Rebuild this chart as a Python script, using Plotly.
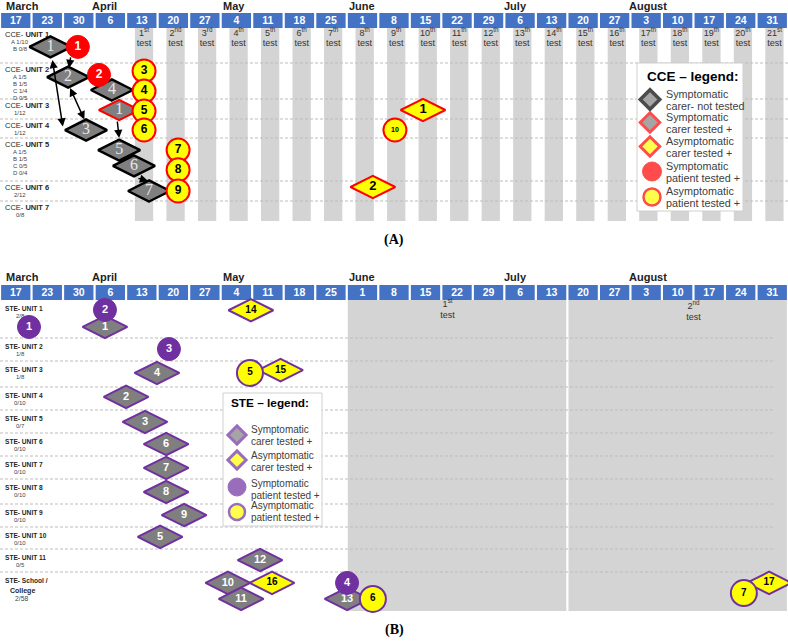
import plotly.graph_objects as go

W, H = 788, 641
NCOL = 25
PXC = W / NCOL
SANS = "Liberation Sans, Arial, sans-serif"
SERIF = "Liberation Serif, Times New Roman, serif"

# ------------------------------------------------------------------ data
WEEKS = ["17", "23", "30", "6", "13", "20", "27", "4", "11", "18", "25", "1", "8",
         "15", "22", "29", "6", "13", "20", "27", "3", "10", "17", "24", "31"]
MONTHS = ["March", "April", "May", "June", "July", "August"]
MONTH_AT = [0.2, 2.83, 6.93, 10.98, 15.84, 20.05]          # week index of month label
CCE_TEST_WEEKS = list(range(4, 25))                         # weekly tests from 13 April
STE_TESTS = ["1", "2"]
STE_TEST_SPAN = [(11, 17), (18, 24)]                        # week index span of each test

CCE_UNITS = ["UNIT 1", "UNIT 2", "UNIT 3", "UNIT 4", "UNIT 5", "UNIT 6", "UNIT 7"]
CCE_SUB = [["A 1/10", "B 0/8"], ["A 1/5", "B 1/5", "C 1/4", "D 0/5"], ["1/12"], ["1/12"],
           ["A 1/5", "B 1/5", "C 0/5", "D 0/4"], ["2/12"], ["0/8"]]

# CCE: symptomatic carer - not tested
CCE_SCN_ID = ["1", "2", "3", "4", "5", "6", "7"]
CCE_SCN_WK = [1.1, 1.66, 2.23, 3.05, 3.28, 3.75, 4.23]
CCE_SCN_UNIT = [1, 2, 4, 2, 5, 5, 6]
CCE_SCN_POS = [0.54, 0.39, 0.58, 0.75, 0.28, 0.65, 0.5]
# CCE: symptomatic carer tested +
CCE_SCP_ID = ["1"]
CCE_SCP_WK = [3.28]
CCE_SCP_UNIT = [3]
CCE_SCP_POS = [0.55]
# CCE: asymptomatic carer tested +
CCE_ACP_ID = ["1", "2"]
CCE_ACP_WK = [12.92, 11.33]
CCE_ACP_UNIT = [3, 6]
CCE_ACP_POS = [0.55, 0.3]
# CCE: symptomatic patient tested +
CCE_SPP_ID = ["1", "2"]
CCE_SPP_WK = [1.97, 2.64]
CCE_SPP_UNIT = [1, 2]
CCE_SPP_POS = [0.54, 0.33]
# CCE: asymptomatic patient tested +
CCE_APP_ID = ["3", "4", "5", "6", "7", "8", "9", "10"]
CCE_APP_WK = [4.07, 4.07, 4.07, 4.07, 5.15, 5.15, 5.15, 12.03]
CCE_APP_UNIT = [2, 2, 3, 4, 5, 5, 6, 4]
CCE_APP_POS = [0.22, 0.78, 0.6, 0.58, 0.28, 0.74, 0.5, 0.58]
# CCE transmission links (from, to, double headed)
CCE_LINKS = [("c3", "c1", True), ("p1", "c2", False), ("c3", "c2", True),
             ("s1", "c5", False), ("c6", "c7", False)]

STE_UNITS = ["STE- UNIT 1", "STE- UNIT 2", "STE- UNIT 3", "STE- UNIT 4", "STE- UNIT 5",
             "STE- UNIT 6", "STE- UNIT 7", "STE- UNIT 8", "STE- UNIT 9", "STE- UNIT 10",
             "STE- UNIT 11", "STE- School /"]
STE_SUB = ["2/8", "1/8", "1/8", "0/10", "0/7", "0/10", "0/10", "0/10", "0/10", "0/10",
           "0/5", "2/58"]

# STE: symptomatic carer tested +
STE_SC_ID = ["1", "2", "3", "4", "5", "6", "7", "8", "9", "10", "11", "12", "13"]
STE_SC_WK = [2.83, 3.5, 4.1, 4.48, 4.58, 4.77, 4.77, 4.77, 5.34, 6.73, 7.15, 7.75, 10.51]
STE_SC_UNIT = [1, 4, 5, 3, 10, 6, 7, 8, 9, 12, 12, 11, 12]
STE_SC_POS = [0.71, 0.43, 0.52, 0.46, 0.45, 0.48, 0.52, 0.52, 0.48, 0.28, 0.69, 0.48, 0.69]
# STE: asymptomatic carer tested +
STE_AC_ID = ["14", "15", "16", "17"]
STE_AC_WK = [7.46, 8.4, 8.13, 23.9]
STE_AC_UNIT = [1, 3, 12, 12]
STE_AC_POS = [0.27, 0.35, 0.28, 0.28]
# STE: symptomatic patient tested +
STE_SP_ID = ["1", "2", "3", "4"]
STE_SP_WK = [0.42, 2.83, 4.86, 10.51]
STE_SP_UNIT = [1, 1, 2, 12]
STE_SP_POS = [0.71, 0.26, 0.48, 0.28]
# STE: asymptomatic patient tested +
STE_AP_ID = ["5", "6", "7"]
STE_AP_WK = [7.43, 11.33, 23.1]
STE_AP_UNIT = [3, 12, 12]
STE_AP_POS = [0.46, 0.69, 0.54]

# ------------------------------------------------------------------ layout constants
A_MONTH_Y, A_HEAD, A_ROWS, A_BAR_END = 6, (13, 28), [28, 63, 99, 119, 138, 181, 201, 222], 221
B_MONTH_Y, B_HEAD = 277, (285, 300)
B_ROWS = [300, 338, 361, 387, 410, 433, 456, 479, 504, 527, 549, 572, 611]
BLUE, GREY_BAR, GREY_MK = "#4472C4", "#D4D4D4", "#7F7F7F"
RED, YEL, PUR = "#FF0000", "#FFFF00", "#7030A0"


def px2x(px):
    return px / PXC - 0.5


def yrow(rows, unit, frac):
    return rows[unit - 1] + frac * (rows[unit] - rows[unit - 1])


def ordinal(n):
    suf = "th" if 11 <= n % 100 <= 13 else {1: "st", 2: "nd", 3: "rd"}.get(n % 10, "th")
    return f"{n}<sup>{suf}</sup>"


fig = go.Figure()
NOHOV = dict(hoverinfo="skip", showlegend=False)

# header strips
for top, bot in (A_HEAD, B_HEAD):
    fig.add_trace(go.Bar(x=list(range(NCOL)), y=[bot - top] * NCOL, base=[top] * NCOL, width=0.93,
                         marker=dict(color=BLUE, line=dict(width=0)), **NOHOV))

# CCE weekly test bars
n = len(CCE_TEST_WEEKS)
fig.add_trace(go.Bar(x=[w + 0.07 for w in CCE_TEST_WEEKS], y=[A_BAR_END - A_HEAD[1]] * n,
                     base=[A_HEAD[1]] * n, width=0.58,
                     marker=dict(color=GREY_BAR, line=dict(width=0)), **NOHOV))
# STE test periods
fig.add_trace(go.Bar(x=[(a + b) / 2 for a, b in STE_TEST_SPAN],
                     y=[B_ROWS[-1] - B_HEAD[1]] * len(STE_TEST_SPAN),
                     base=[B_HEAD[1]] * len(STE_TEST_SPAN),
                     width=[b - a + 1 - 0.07 for a, b in STE_TEST_SPAN],
                     marker=dict(color=GREY_BAR, line=dict(width=0)), **NOHOV))

# dashed row separators
for rows, xend in ((A_ROWS, 24.5), (B_ROWS, px2x(775))):
    xs, ys = [], []
    for r in rows[1:-1]:
        xs += [-0.5, xend, None]
        ys += [r, r, None]
    fig.add_trace(go.Scatter(x=xs, y=ys, mode="lines",
                             line=dict(color="#BDBDBD", width=1, dash="3px,2px"), **NOHOV))

# legend boxes
for (x0, y0, x1, y1) in ((637, 63, 743, 211), (223, 393, 322, 526)):
    fig.add_trace(go.Scatter(x=[px2x(x0), px2x(x1), px2x(x1), px2x(x0), px2x(x0)],
                             y=[y0, y0, y1, y1, y0], mode="lines", fill="toself",
                             fillcolor="white", line=dict(color="#D0D0D0", width=1), **NOHOV))

# header labels
for top, bot in (A_HEAD, B_HEAD):
    fig.add_trace(go.Scatter(x=list(range(NCOL)), y=[(top + bot) / 2 + 0.5] * NCOL, mode="text",
                             text=WEEKS, textfont=dict(color="white", size=10.5, family=SANS, weight="bold"),
                             **NOHOV))
# CCE test labels
fig.add_trace(go.Scatter(x=[w + 0.07 for w in CCE_TEST_WEEKS], y=[34] * n, mode="text",
                         text=[ordinal(i + 1) for i in range(n)],
                         textfont=dict(color="#333333", size=9, family=SANS), **NOHOV))
fig.add_trace(go.Scatter(x=[w + 0.07 for w in CCE_TEST_WEEKS], y=[44] * n, mode="text",
                         text=["test"] * n, textfont=dict(color="#333333", size=9, family=SANS), **NOHOV))
# STE test labels
STE_LABEL_X = [13.7, 21.5]
fig.add_trace(go.Scatter(x=STE_LABEL_X, y=[305, 307], mode="text",
                         text=[ordinal(int(t)) for t in STE_TESTS],
                         textfont=dict(color="#333333", size=9, family=SANS), **NOHOV))
fig.add_trace(go.Scatter(x=STE_LABEL_X, y=[316, 318], mode="text", text=["test"] * 2,
                         textfont=dict(color="#333333", size=9, family=SANS), **NOHOV))


def marks(wk, units, pos, rows, ids, symbol, size, fill, lc, lw, tc, ts, fam=SANS, bold=True):
    ys = [yrow(rows, u, f) for u, f in zip(units, pos)]
    fig.add_trace(go.Scatter(x=wk, y=ys, mode="markers+text", text=ids, textposition="middle center",
                             marker=dict(symbol=symbol, size=size, color=fill, line=dict(color=lc, width=lw)),
                             textfont=dict(color=tc, size=ts, family=fam, weight="bold" if bold else "normal"),
                             cliponaxis=False, **NOHOV))
    return dict(zip(ids, zip(wk, ys)))


# CCE marks
pc = marks(CCE_SCN_WK, CCE_SCN_UNIT, CCE_SCN_POS, A_ROWS, CCE_SCN_ID, "diamond-wide", 30,
           GREY_MK, "#000000", 2.5, "#E8E8E8", 16, SERIF, False)
ps = marks(CCE_SCP_WK, CCE_SCP_UNIT, CCE_SCP_POS, A_ROWS, CCE_SCP_ID, "diamond-wide", 29,
           GREY_MK, RED, 2, "#E8E8E8", 16, SERIF, False)
marks(CCE_ACP_WK, CCE_ACP_UNIT, CCE_ACP_POS, A_ROWS, CCE_ACP_ID, "diamond-wide", 32,
      YEL, RED, 2, "#000000", 13)
pp = marks(CCE_SPP_WK, CCE_SPP_UNIT, CCE_SPP_POS, A_ROWS, CCE_SPP_ID, "circle", 23,
           RED, RED, 1, "white", 12)
marks(CCE_APP_WK, CCE_APP_UNIT, CCE_APP_POS, A_ROWS, CCE_APP_ID, "circle", 23,
      YEL, RED, 2, "#000000", [12] * 7 + [7])

# STE marks
marks(STE_SC_WK, STE_SC_UNIT, STE_SC_POS, B_ROWS, STE_SC_ID, "diamond-wide", 32,
      GREY_MK, PUR, 2, "white", 11)
marks(STE_AC_WK, STE_AC_UNIT, STE_AC_POS, B_ROWS, STE_AC_ID, "diamond-wide", 32,
      YEL, PUR, 2, "#000000", 10)
marks(STE_SP_WK, STE_SP_UNIT, STE_SP_POS, B_ROWS, STE_SP_ID, "circle", 23,
      PUR, PUR, 1, "white", 11)
marks(STE_AP_WK, STE_AP_UNIT, STE_AP_POS, B_ROWS, STE_AP_ID, "circle", 26,
      YEL, PUR, 2, "#000000", 10)

# legend symbols
fig.add_trace(go.Scatter(
    x=[px2x(650), px2x(650), px2x(650), px2x(652), px2x(652)], y=[99.5, 122.5, 146.5, 171.5, 197],
    mode="markers",
    marker=dict(symbol=["diamond", "diamond", "diamond", "circle", "circle"], size=[15, 15, 15, 19, 17],
                color=[GREY_MK, GREY_MK, YEL, RED, YEL],
                line=dict(color=["#000000", RED, RED, RED, RED], width=[3.5, 3, 3, 1, 2.5])),
    cliponaxis=False, **NOHOV))
fig.add_trace(go.Scatter(
    x=[px2x(237)] * 4, y=[435, 460, 487, 512], mode="markers",
    marker=dict(symbol=["diamond", "diamond", "circle", "circle"], size=[14, 14, 18, 16],
                color=[GREY_MK, YEL, PUR, YEL],
                line=dict(color=PUR, width=[3, 3, 1, 2.5])),
    cliponaxis=False, **NOHOV))

ann = []


def txt(x, y, s, size, color="#262626", xanchor="center", fam=SANS):
    ann.append(dict(x=x, y=y, xref="x", yref="y", text=s, showarrow=False, xanchor=xanchor,
                    yanchor="middle", font=dict(size=size, color=color, family=fam)))


# months
for m, at in zip(MONTHS, MONTH_AT):
    txt(at, A_MONTH_Y, f"<b>{m}</b>", 11, "#222222")
    txt(at, B_MONTH_Y, f"<b>{m}</b>", 11, "#222222")

# CCE unit labels
for i, (u, subs) in enumerate(zip(CCE_UNITS, CCE_SUB)):
    top = A_ROWS[i]
    txt(px2x(3), top + 6.5, f"CCE- <b>{u}</b>", 7.5, xanchor="left")
    for j, s in enumerate(subs):
        txt(px2x(20), top + 13.5 + 7 * j, s, 6, "#444444")
# STE unit labels
for i, (u, s) in enumerate(zip(STE_UNITS, STE_SUB)):
    top = B_ROWS[i]
    txt(px2x(3), top + 8, f"<b>{u}</b>", 6.6, xanchor="left")
    if i == len(STE_UNITS) - 1:
        txt(px2x(22), top + 18.5, "<b>College</b>", 7)
        txt(px2x(21), top + 26, s, 6.8, "#444444")
    else:
        txt(px2x(20), top + 15.5, s, 6, "#444444")

# legend texts
txt(px2x(645), 76, "<b>CCE – legend:</b>", 13.5, "#000000", "left")
for y, (l1, l2) in zip([99.5, 122.5, 146.5, 171.5, 197],
                       [("Symptomatic", "carer- not tested"), ("Symptomatic", "carer tested +"),
                        ("Asymptomatic", "carer tested +"), ("Symptomatic", "patient tested +"),
                        ("Asymptomatic", "patient tested +")]):
    txt(px2x(664), y - 6, l1, 10.8, "#404040", "left")
    txt(px2x(664), y + 6, l2, 10.8, "#404040", "left")
txt(px2x(229), 403, "<b>STE – legend:</b>", 11.8, "#000000", "left")
for y, (l1, l2) in zip([435, 461.5, 489, 511.5],
                       [("Symptomatic", "carer tested +"), ("Asymptomatic", "carer tested +"),
                        ("Symptomatic", "patient tested +"), ("Asymptomatic", "patient tested +")]):
    txt(px2x(249), y - 6, l1, 10, "#404040", "left")
    txt(px2x(249), y + 6, l2, 10, "#404040", "left")

# panel tags
txt(px2x(394), 240, "<b>(A)</b>", 14, "#000000", fam=SERIF)
txt(px2x(394), 630, "<b>(B)</b>", 14, "#000000", fam=SERIF)

# CCE transmission arrows (endpoint offsets in px from marker centres)
refs = {("c" + k): v for k, v in pc.items()}
refs.update({("s" + k): v for k, v in ps.items()})
refs.update({("p" + k): v for k, v in pp.items()})
ARROW_OFF = [((-23, -2), (2, 13)), ((-7, 9), (1, -9)), ((-1, -9), (2, 11)),
             ((-2, 10), (0, -12)), ((3, 12), (-1, -10))]
for (a, b, dbl), ((tdx, tdy), (hdx, hdy)) in zip(CCE_LINKS, ARROW_OFF):
    (ax, ay), (bx, by) = refs[a], refs[b]
    ann.append(dict(x=bx + hdx / PXC, y=by + hdy, ax=ax + tdx / PXC, ay=ay + tdy,
                    xref="x", yref="y", axref="x", ayref="y", text="", showarrow=True,
                    arrowhead=2, arrowsize=1.1, arrowwidth=1.5, arrowcolor="#000000",
                    arrowside="end+start" if dbl else "end", standoff=0, startstandoff=0))

fig.update_layout(
    width=W, height=H, margin=dict(l=0, r=0, t=0, b=0),
    paper_bgcolor="white", plot_bgcolor="white", barmode="overlay", showlegend=False,
    xaxis=dict(range=[-0.5, NCOL - 0.5], visible=False, fixedrange=True),
    yaxis=dict(range=[H, 0], visible=False, fixedrange=True),
    annotations=ann,
)
fig.write_html("out.html", config={"displayModeBar": False, "staticPlot": True},
               post_script="document.body.style.margin='0px';")
